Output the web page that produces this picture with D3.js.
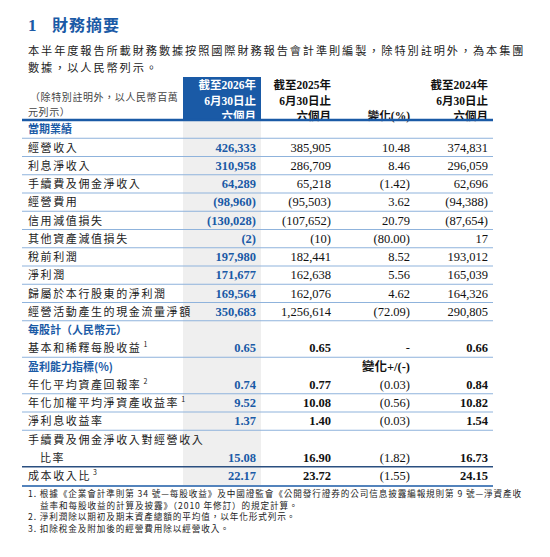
<!DOCTYPE html>
<html><head><meta charset="utf-8">
<script src="https://cdn.jsdelivr.net/npm/d3@7"></script>
<style>body{margin:0;background:#fff}</style></head>
<body><svg id="c" width="550" height="557"></svg>
<script>
const labels=["當期業績","經營收入","利息淨收入","手續費及佣金淨收入","經營費用","信用減值損失","其他資產減值損失","稅前利潤","淨利潤","歸屬於本行股東的淨利潤","經營活動產生的現金流量淨額","每股計（人民幣元）","基本和稀釋每股收益","盈利能力指標(%)","年化平均資產回報率","年化加權平均淨資產收益率","淨利息收益率","手續費及佣金淨收入對經營收入|比率","成本收入比"];
const sups=["","","","","","","","","","","","","1","","2","1","","","3"];
const isSection=[1,0,0,0,0,0,0,0,0,0,0,1,0,1,0,0,0,0,0];
const v2026=["","426,333","310,958","64,289","(98,960)","(130,028)","(2)","197,980","171,677","169,564","350,683","","0.65","","0.74","9.52","1.37","15.08","22.17"];
const v2025=["","385,905","286,709","65,218","(95,503)","(107,652)","(10)","182,441","162,638","162,076","1,256,614","","0.65","","0.77","10.08","1.40","16.90","23.72"];
const vChg=["","10.48","8.46","(1.42)","3.62","20.79","(80.00)","8.52","5.56","4.62","(72.09)","","-","變化+/(-)","(0.03)","(0.56)","(0.03)","(1.82)","(1.55)"];
const v2024=["","374,831","296,059","62,696","(94,388)","(87,654)","17","193,012","165,039","164,326","290,805","","0.66","","0.84","10.82","1.54","16.73","24.15"];
const rowUnits=labels.map(l=>l.includes("|")?2:1);
const headCols=[["截至2026年","6月30日止","六個月"],["截至2025年","6月30日止","六個月"],["","","變化(%)"],["截至2024年","6月30日止","六個月"]];
const notes=["1. 根據《企業會計準則第 34 號—每股收益》及中國證監會《公開發行證券的公司信息披露編報規則第 9 號—淨資產收","益率和每股收益的計算及披露》（2010 年修訂）的規定計算。","2. 淨利潤除以期初及期末資產總額的平均值，以年化形式列示。","3. 扣除稅金及附加後的經營費用除以經營收入。"];

const BLUE="#1a5aa6", FONT="'Liberation Serif','Noto Sans CJK TC',serif", CJK="'Noto Sans CJK TC',sans-serif";
const svg=d3.select("#c");
const cum=[0];rowUnits.forEach(u=>cum.push(cum[cum.length-1]+u));
const y=d3.scaleLinear().domain([0,cum[cum.length-1]]).range([120,485]);
const colRight=d3.scaleOrdinal().domain([0,1,2,3]).range([256,331,410,488]);

svg.append("text").attr("x",28).attr("y",31).attr("fill",BLUE).attr("font-family",FONT).attr("font-weight","bold").attr("font-size",17).text("1");
svg.append("text").attr("x",52).attr("y",31).attr("fill",BLUE).attr("font-family",CJK).attr("font-weight","bold").attr("font-size",16).attr("letter-spacing",1).text("財務摘要");
svg.append("text").attr("x",28).attr("y",55).attr("font-family",CJK).attr("font-size",11.2).attr("letter-spacing",1.9).attr("fill","#222").text("本半年度報告所載財務數據按照國際財務報告會計準則編製，除特別註明外，為本集團");
svg.append("text").attr("x",28).attr("y",72).attr("font-family",CJK).attr("font-size",11.2).attr("letter-spacing",1.9).attr("fill","#222").text("數據，以人民幣列示。");

svg.append("rect").attr("x",183).attr("y",77).attr("width",78).attr("height",43).attr("fill",BLUE);
svg.append("rect").attr("x",183).attr("y",120).attr("width",78).attr("height",365).attr("fill","#efefef");
svg.append("text").attr("x",30).attr("y",101).attr("font-family",CJK).attr("font-size",10).attr("fill","#444").attr("letter-spacing",0.6).text("（除特別註明外，以人民幣百萬");
svg.append("text").attr("x",28).attr("y",116).attr("font-family",CJK).attr("font-size",10).attr("fill","#444").attr("letter-spacing",0.6).text("元列示）");
headCols.forEach((lines,c)=>lines.forEach((t,i)=>{
  svg.append("text").attr("x",colRight(c)).attr("y",89+i*15.5).attr("text-anchor","end")
    .attr("font-family",FONT).attr("font-weight","bold").attr("font-size",11.5)
    .attr("fill",c===0?"#fff":"#111").text(t);
}));
svg.append("line").attr("x1",22).attr("x2",493).attr("y1",120).attr("y2",120).attr("stroke",BLUE).attr("stroke-width",2.5);

labels.forEach((lab,i)=>{
  const top=y(cum[i]), bot=y(cum[i+1]), base=bot-5;
  const parts=lab.split("|");
  const g=svg.append("g");
  if(isSection[i]){
    g.append("text").attr("x",28).attr("y",base).attr("fill",BLUE).attr("font-family",CJK).attr("font-weight","bold").attr("font-size",11).text(lab);
  } else if(parts.length>1){
    g.append("text").attr("x",28).attr("y",top+14).attr("font-family",CJK).attr("font-size",11).attr("letter-spacing",1.6).attr("fill","#222").text(parts[0]);
    g.append("text").attr("x",40).attr("y",base).attr("font-family",CJK).attr("font-size",11).attr("letter-spacing",1.6).attr("fill","#222").text(parts[1]);
  } else {
    const t=g.append("text").attr("x",28).attr("y",base).attr("font-family",CJK).attr("font-size",11).attr("letter-spacing",1.6).attr("fill","#222").text(lab);
    if(sups[i]) t.append("tspan").attr("font-size",7).attr("dy",-5).attr("dx",2).text(sups[i]);
  }
  const bold=i>=12;
  [v2026,v2025,vChg,v2024].forEach((arr,c)=>{
    if(!arr[i])return;
    g.append("text").attr("x",colRight(c)).attr("y",base).attr("text-anchor","end")
      .attr("font-family",FONT).attr("font-size",12.5)
      .attr("font-weight",(c===0||isSection[i]||(bold&&c!==2)) ?"bold":"normal")
      .attr("fill",c===0?BLUE:"#111").text(arr[i]);
  });
  if(!(isSection[i]&&i>0) && i<labels.length-1){
    const dark=i===labels.length-2;
    svg.append("line").attr("x1",22).attr("x2",493).attr("y1",bot).attr("y2",bot)
      .attr("stroke",dark?"#2a4f80":"#8fb3dc").attr("stroke-width",dark?1.4:1);
  }
});
svg.append("line").attr("x1",22).attr("x2",493).attr("y1",486).attr("y2",486).attr("stroke",BLUE).attr("stroke-width",1.6);

const ny=[497,509,520,532], nx=[28,40,28,28];
notes.forEach((t,i)=>svg.append("text").attr("x",nx[i]).attr("y",ny[i]).attr("font-family",CJK).attr("font-size",8.6).attr("letter-spacing",0.9).attr("fill","#222").text(t));
</script></body></html>
